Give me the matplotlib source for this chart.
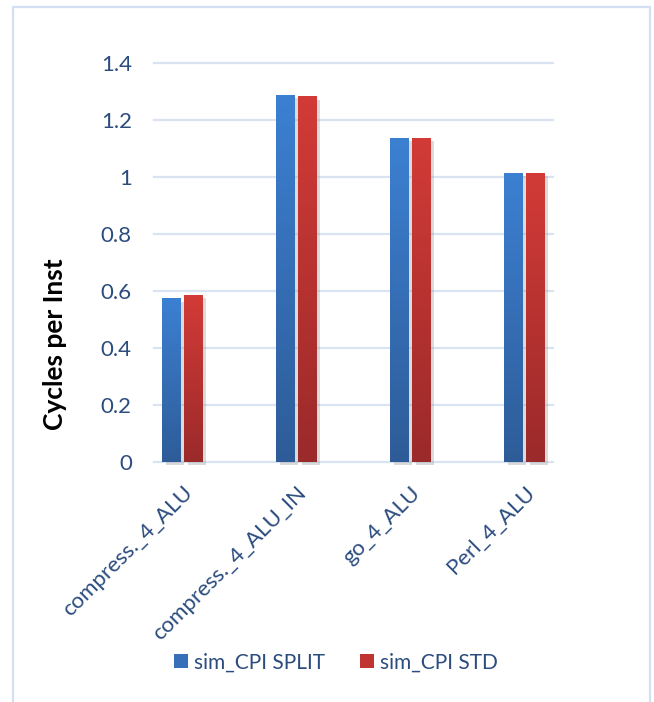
import numpy as np
import matplotlib
matplotlib.use("Agg")
import matplotlib.pyplot as plt
from matplotlib.colors import LinearSegmentedColormap
from matplotlib.patches import Rectangle
import matplotlib.patheffects as pe

categories = ["compress._4_ALU", "compress._4_ALU_IN", "go_4_ALU", "Perl_4_ALU"]
split_cpi = [0.575, 1.289, 1.138, 1.015]
std_cpi = [0.586, 1.285, 1.138, 1.015]
series_names = ["sim_CPI SPLIT", "sim_CPI STD"]
y_ticks = [0, 0.2, 0.4, 0.6, 0.8, 1, 1.2, 1.4]
y_tick_labels = ["0", "0.2", "0.4", "0.6", "0.8", "1", "1.2", "1.4"]

FONT = ["Lato", "DejaVu Sans"]
TEXT_BLUE = "#2B4C7E"
GRID = "#D9E3F2"

blue_cmap = LinearSegmentedColormap.from_list("blue_grad", ["#2E5C98", "#3C80D2"])
red_cmap = LinearSegmentedColormap.from_list("red_grad", ["#9B2A2A", "#D23B37"])

fig = plt.figure(figsize=(6.54, 7.02), dpi=100)
ax = fig.add_axes([0.2355, 0.3423, 0.6101, 0.5674])

x = np.arange(len(categories))
width = 0.163
offset = 0.095

shadow = [pe.SimplePatchShadow(offset=(2.5, -2.5), shadow_rgbFace="#9A9A9A", alpha=0.35),
          pe.Normal()]

grad = np.linspace(0, 1, 256).reshape(-1, 1)
for vals, shift, cmap, col, name in [
    (split_cpi, -offset, blue_cmap, "#3570B8", series_names[0]),
    (std_cpi, offset, red_cmap, "#C03431", series_names[1]),
]:
    bars = ax.bar(x + shift, vals, width, color=col, zorder=3, label=name,
                  clip_on=False)
    for b in bars:
        b.set_path_effects(shadow)
        x0, y0 = b.get_x(), b.get_y()
        w, h = b.get_width(), b.get_height()
        im = ax.imshow(grad, extent=[x0, x0 + w, y0, y0 + h], origin="lower",
                       cmap=cmap, aspect="auto", zorder=4, interpolation="bilinear")
        im.set_clip_path(b)

ax.set_xlim(-0.25, 3.25)
ax.set_ylim(0, 1.4)
ax.set_yticks(y_ticks)
ax.set_yticklabels(y_tick_labels)
ax.set_xticks(x)
ax.set_xticklabels(categories, rotation=45, ha="right", rotation_mode="anchor")

for yv in y_ticks:
    ax.axhline(yv, color=GRID, lw=1.6, zorder=1, clip_on=False)

for s in ax.spines.values():
    s.set_visible(False)
ax.tick_params(axis="both", length=0, colors=TEXT_BLUE, labelsize=16)
ax.tick_params(axis="y", pad=16)
ax.tick_params(axis="x", pad=15)
for lbl in ax.get_xticklabels() + ax.get_yticklabels():
    lbl.set_family(FONT)
    lbl.set_color(TEXT_BLUE)

fig.text(55 / 654, 1 - 344 / 702, "Cycles per Inst", rotation=90, ha="center",
         va="center", fontsize=19, fontweight="bold", family=FONT, color="black")

handles = [Rectangle((0, 0), 1, 1, facecolor="#3570B8"),
           Rectangle((0, 0), 1, 1, facecolor="#C03431")]
leg = fig.legend(handles, series_names, loc="center", bbox_to_anchor=(0.514, 0.056),
                 ncol=2, frameon=False, handlelength=0.65, handleheight=0.65,
                 handletextpad=0.3, columnspacing=1.7,
                 prop={"family": FONT, "size": 15})
for t in leg.get_texts():
    t.set_color(TEXT_BLUE)

fig.patches.append(Rectangle((13 / 654, -0.05), 637 / 654, 1.05 - 7 / 702,
                             transform=fig.transFigure, fill=False,
                             edgecolor="#D3E0F3", lw=1.6))

fig.savefig("out.png", dpi=100, facecolor="white")
